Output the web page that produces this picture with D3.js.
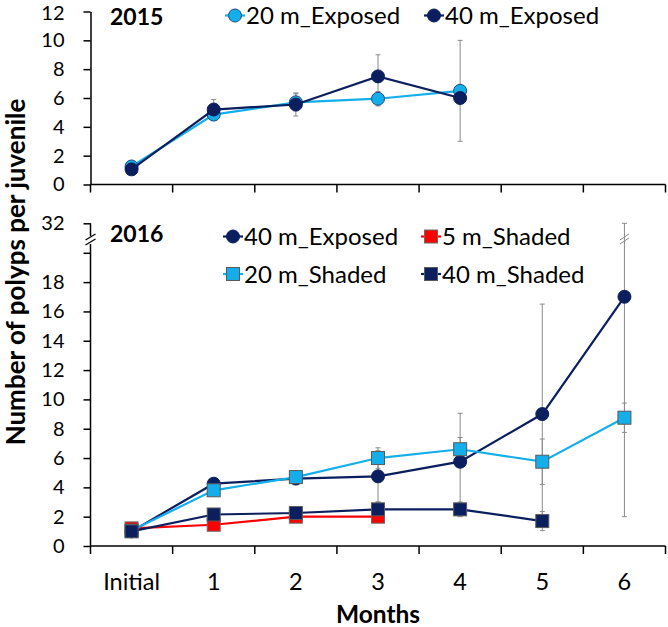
<!DOCTYPE html>
<html><head><meta charset="utf-8">
<script src="https://cdn.jsdelivr.net/npm/d3@7"></script>
<style>
body{margin:0;background:#fff}
svg{display:block}
text{font-family:Lato,'Open Sans',sans-serif;fill:#000}
</style>
</head><body><svg id="c" width="668" height="627"></svg>
<script>
// ---------- data ----------
const categories = ["Initial","1","2","3","4","5","6"];
const yTicksTop = [0,2,4,6,8,10,12];
const yTicksBottom = [0,2,4,6,8,10,12,14,16,18,20,32];
const yLabelsBottom = ["0","2","4","6","8","10","12","14","16","18","","32"];

// 2015
const exp20_2015 = [1.25,4.85,5.7,5.95,6.5];
const exp20_2015_lo = [0.1,0.4,0.6,0.5,0.3];
const exp20_2015_hi = [0.1,0.4,0.6,0.5,0.3];
const exp40_2015 = [1.05,5.2,5.55,7.5,6.0];
const exp40_2015_lo = [0.1,0.7,0.8,1.5,3.0];
const exp40_2015_hi = [0.1,0.7,0.8,1.5,4.0];

// 2016
const exp40_2016 = [1.0,4.25,4.6,4.75,5.75,9.0,17.0];
const exp40_2016_err = [0.1,0.3,0.2,1.75,3.3,7.5,15.0];
const sh5_2016 = [1.2,1.45,2.0,2.0];
const sh5_2016_err = [0.1,0.15,0.1,0.2];
const sh20_2016 = [1.05,3.8,4.7,6.0,6.6,5.75,8.75];
const sh20_2016_err = [0.1,0.3,0.45,0.7,0.8,1.55,1.0];
const sh40_2016 = [1.0,2.15,2.25,2.5,2.5,1.7];
const sh40_2016_err = [0.1,0.2,0.2,0.5,0.5,0.65];

const NAVY = "#0b1f5e", LBLUE = "#14aeea", RED = "#ff0000", EB = "#8a8a8a";

// ---------- scales ----------
const svg = d3.select("#c");
const x = d3.scaleBand().domain(categories).range([90.5, 665.5]);
const cx = c => x(c) + x.bandwidth()/2;
const yTop = d3.scaleLinear().domain([0,12]).range([184.5, 11.5]);
const yBot = d3.scaleLinear().domain([0,20.6,31,32]).range([546,244,235,223.3]);

// ---------- axes ----------
function styleAxis(g, fs){
  g.selectAll("line").attr("stroke","#000").attr("stroke-width",1.5);
  g.selectAll("path.domain").attr("stroke","#000").attr("stroke-width",1.5);
  g.selectAll("text").style("font-size",fs).attr("fill","#000");
}
const gyt = svg.append("g").attr("transform","translate(90.5,0)")
  .call(d3.axisLeft(yTop).tickValues(yTicksTop).tickSize(7).tickSizeOuter(0).tickPadding(19));
styleAxis(gyt,"20px");
gyt.selectAll(".tick text").filter(d=>d===12).attr("dy","0.42em");

const gyb = svg.append("g").attr("transform","translate(90.5,0)")
  .call(d3.axisLeft(yBot).tickValues(yTicksBottom).tickFormat((d,i)=>yLabelsBottom[i]).tickSize(7).tickSizeOuter(0).tickPadding(19));
gyb.select("path.domain").remove();
styleAxis(gyb,"20px");
// broken axis segments
svg.append("line").attr("x1",90.5).attr("x2",90.5).attr("y1",yBot(0)).attr("y2",yBot(20.6)).attr("stroke","#000").attr("stroke-width",1.5);
svg.append("line").attr("x1",90.5).attr("x2",90.5).attr("y1",yBot(32)).attr("y2",yBot(31)+1).attr("stroke","#000").attr("stroke-width",1.5);
[0,5].forEach(o=>{
  svg.append("line").attr("x1",85.5).attr("y1",240+o).attr("x2",95.5).attr("y2",234+o).attr("stroke","#000").attr("stroke-width",1.3);
});

function xAxis(y0, labels){
  const g = svg.append("g");
  g.append("line").attr("x1",x.range()[0]).attr("x2",x.range()[1]).attr("y1",y0).attr("y2",y0).attr("stroke","#000").attr("stroke-width",1.5);
  const edges = categories.map(c=>x(c)).concat([x.range()[1]]);
  g.selectAll("line.t").data(edges).enter().append("line").attr("class","t")
    .attr("x1",d=>d).attr("x2",d=>d).attr("y1",y0).attr("y2",y0+8).attr("stroke","#000").attr("stroke-width",1.5);
  if(labels){
    g.selectAll("text").data(categories).enter().append("text")
      .attr("x",d=>cx(d)).attr("y",y0+44).attr("text-anchor","middle").style("font-size","23.5px").text(d=>d);
  }
}
xAxis(yTop(0), false);
xAxis(yBot(0), true);

// ---------- series drawing ----------
function errorBars(y, vals, lo, hi){
  const g = svg.append("g");
  vals.forEach((v,i)=>{
    const X = cx(categories[i]);
    const a = y(v - lo[i]), b = y(v + hi[i]);
    g.append("line").attr("x1",X).attr("x2",X).attr("y1",a).attr("y2",b).attr("stroke",EB).attr("stroke-width",1);
    [a,b].forEach(yy=>g.append("line").attr("x1",X-2.5).attr("x2",X+2.5).attr("y1",yy).attr("y2",yy).attr("stroke",EB).attr("stroke-width",1));
  });
}
function series(y, vals, color, shape, mstroke){
  const line = d3.line().x((d,i)=>cx(categories[i])).y(d=>y(d));
  svg.append("path").datum(vals).attr("d",line).attr("fill","none").attr("stroke",color).attr("stroke-width",2.2);
  vals.forEach((v,i)=>marker(cx(categories[i]), y(v), color, shape, mstroke));
}
function marker(X, Y, color, shape, mstroke){
  if(shape==="circle"){
    svg.append("circle").attr("cx",X).attr("cy",Y).attr("r",6.5).attr("fill",color).attr("stroke",mstroke).attr("stroke-width",1);
  } else {
    svg.append("rect").attr("x",X-6.5).attr("y",Y-6.5).attr("width",13).attr("height",13).attr("fill",color).attr("stroke",mstroke).attr("stroke-width",1);
  }
}

// 2015 panel
errorBars(yTop, exp20_2015, exp20_2015_lo, exp20_2015_hi);
errorBars(yTop, exp40_2015, exp40_2015_lo, exp40_2015_hi);
series(yTop, exp20_2015, LBLUE, "circle", "#1f4a7a");
series(yTop, exp40_2015, NAVY, "circle", NAVY);

// 2016 panel
errorBars(yBot, exp40_2016, exp40_2016_err, exp40_2016_err);
errorBars(yBot, sh5_2016, sh5_2016_err, sh5_2016_err);
errorBars(yBot, sh20_2016, sh20_2016_err, sh20_2016_err);
errorBars(yBot, sh40_2016, sh40_2016_err, sh40_2016_err);
// break marks on the long error bar
[0,4].forEach(o=>{
  const X = cx("6");
  svg.append("line").attr("x1",X-4.5).attr("y1",240+o).attr("x2",X+4.5).attr("y2",234+o).attr("stroke",EB).attr("stroke-width",1);
});
series(yBot, exp40_2016, NAVY, "circle", NAVY);
series(yBot, sh5_2016, RED, "square", "#6b6b6b");
series(yBot, sh20_2016, LBLUE, "square", "#5a5a5a");
series(yBot, sh40_2016, NAVY, "square", "#5a5a5a");

// ---------- legends ----------
function legendItem(X, Y, color, shape, mstroke, label){
  svg.append("line").attr("x1",X-10).attr("x2",X+10).attr("y1",Y).attr("y2",Y).attr("stroke",color).attr("stroke-width",2.2);
  marker(X, Y, color, shape, mstroke);
  svg.append("text").attr("x",X+11).attr("y",Y+8.5).style("font-size","24px").text(label);
}
legendItem(235, 15.5, LBLUE, "circle", "#1f4a7a", "20 m_Exposed");
legendItem(434, 15.5, NAVY, "circle", NAVY, "40 m_Exposed");
legendItem(233, 236.5, NAVY, "circle", NAVY, "40 m_Exposed");
legendItem(431, 236.5, RED, "square", "#6b6b6b", "5 m_Shaded");
legendItem(233, 274, LBLUE, "square", "#5a5a5a", "20 m_Shaded");
legendItem(431, 274, NAVY, "square", "#5a5a5a", "40 m_Shaded");

// ---------- titles ----------
svg.append("text").attr("x",110).attr("y",25).style("font-size","23px").style("font-weight","bold").text("2015");
svg.append("text").attr("x",110).attr("y",241.5).style("font-size","23px").style("font-weight","bold").text("2016");
svg.append("text").attr("x",(x.range()[0]+x.range()[1])/2).attr("y",623).attr("text-anchor","middle")
  .style("font-size","24.5px").style("font-weight","bold").text("Months");
svg.append("text").attr("transform","translate(16,272) rotate(-90)").attr("text-anchor","middle").attr("dy","0.35em")
  .style("font-size","26px").style("font-weight","bold").text("Number of polyps per juvenile");
</script></body></html>
